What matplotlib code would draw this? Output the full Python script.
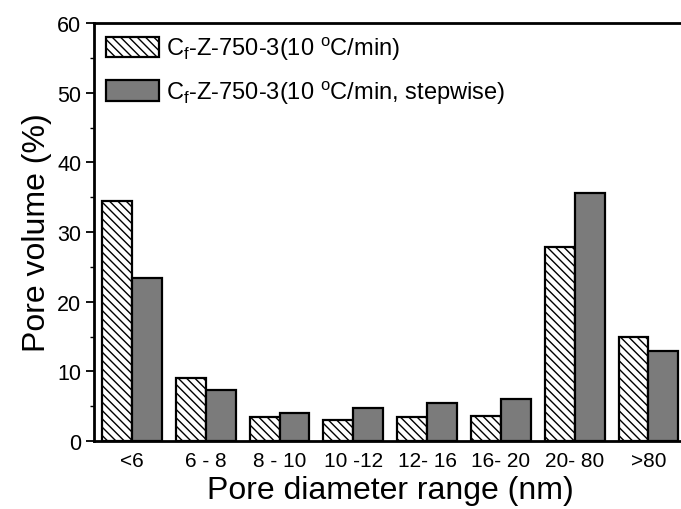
import numpy as np
import matplotlib
matplotlib.use("Agg")
import matplotlib.pyplot as plt

plt.rcParams["font.family"] = ["Liberation Sans", "DejaVu Sans"]
plt.rcParams["mathtext.fontset"] = "custom"
plt.rcParams["mathtext.rm"] = "Liberation Sans"
plt.rcParams["mathtext.it"] = "Liberation Sans"
plt.rcParams["hatch.linewidth"] = 1.0

# pore diameter ranges and pore volume fractions (%)
ranges = ["<6", "6 - 8", "8 - 10", "10 -12", "12- 16", "16- 20", "20- 80", ">80"]
vol_10 = [34.4, 9.1, 3.5, 3.1, 3.4, 3.6, 27.8, 14.9]
vol_10_step = [23.4, 7.4, 4.1, 4.7, 5.5, 6.1, 35.6, 12.9]

labels = [r"C$_\mathregular{f}$-Z-750-3(10 $^\mathregular{o}$C/min)",
          r"C$_\mathregular{f}$-Z-750-3(10 $^\mathregular{o}$C/min, stepwise)"]

fig = plt.figure(figsize=(6.81, 5.10), dpi=100)
ax = fig.add_axes([0.138, 0.133, 0.870, 0.820])

x = np.arange(len(ranges))
w = 0.405
ax.bar(x - w / 2, vol_10, w, facecolor="white", edgecolor="black",
       hatch="\\\\\\\\", linewidth=1.6, label=labels[0])
ax.bar(x + w / 2, vol_10_step, w, facecolor="#7b7b7b", edgecolor="black",
       linewidth=1.6, label=labels[1])

ax.set_xlim(-0.515, len(ranges) - 0.485)
ax.set_ylim(0, 60)
ax.set_yticks(np.arange(0, 61, 10))
ax.set_yticks(np.arange(5, 60, 10), minor=True)
ax.set_xticks(x)
ax.set_xticklabels(ranges, fontsize=15)
ax.tick_params(axis="x", length=0, pad=7)
ax.tick_params(axis="y", which="major", direction="out", length=6, width=1.3,
               labelsize=15.5, pad=3)
ax.tick_params(axis="y", which="minor", direction="out", length=3, width=1.0)

for s in ["left", "top", "bottom"]:
    ax.spines[s].set_linewidth(2.0)
ax.spines["right"].set_visible(False)

ax.set_xlabel("Pore diameter range (nm)", fontsize=23, labelpad=4)
ax.set_ylabel("Pore volume (%)", fontsize=23, labelpad=4)

ax.legend(loc="upper left", frameon=False, fontsize=17, handlelength=2.25,
          handleheight=0.95, borderaxespad=0.1, borderpad=0.4,
          labelspacing=0.7, handletextpad=0.3)

fig.savefig("out.png", dpi=100)
